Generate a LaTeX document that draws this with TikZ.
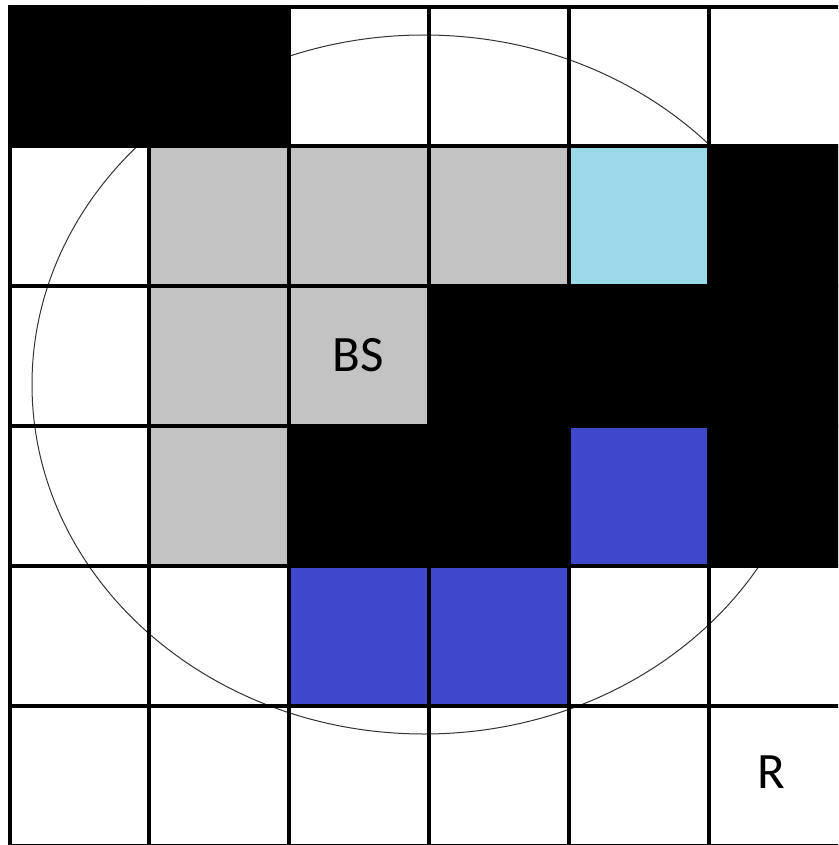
\documentclass[tikz,border=0pt]{standalone}
\usepackage{fontspec}
\newfontfamily\labelfont{Carlito}
\definecolor{cellgray}{HTML}{C3C3C3}
\definecolor{celllight}{HTML}{99D9EA}
\definecolor{cellblue}{HTML}{3F48CC}
\tikzset{
  cellfill/.style={fill=#1, draw=none},
  gridline/.style={line width=4pt, black},
  rangeline/.style={line width=1pt, black!80},
  celllabel/.style={font=\labelfont\fontsize{51}{51}\selectfont, inner sep=0pt}
}
\begin{document}
\begin{tikzpicture}[x=1pt,y=-1pt]
\useasboundingbox (0,0) rectangle (838,845);
\clip (0,0) rectangle (838,845);
\fill[white] (0,0) rectangle (838,845);
% coverage range
\draw[rangeline] (424,384.5) ellipse [x radius=392, y radius=349.5];
% cells: columns 10,149,289,429,569,709,849 ; rows 7,146,286,426,566,706,846
% row 0
\fill[cellfill=black] (10,7) rectangle (289,146);
% row 1
\fill[cellfill=cellgray] (149,146) rectangle (569,286);
\fill[cellfill=celllight] (569,146) rectangle (709,286);
\fill[cellfill=black] (709,146) rectangle (849,286);
% row 2
\fill[cellfill=cellgray] (149,286) rectangle (429,426);
\fill[cellfill=black] (429,286) rectangle (849,426);
% row 3
\fill[cellfill=cellgray] (149,426) rectangle (289,566);
\fill[cellfill=black] (289,426) rectangle (569,566);
\fill[cellfill=cellblue] (569,426) rectangle (709,566);
\fill[cellfill=black] (709,426) rectangle (849,566);
% row 4
\fill[cellfill=cellblue] (289,566) rectangle (569,706);
% grid
\foreach \gx in {10,149,289,429,569,709,849}
  \draw[gridline] (\gx,5) -- (\gx,848);
\foreach \gy in {7,146,286,426,566,706,846}
  \draw[gridline] (8,\gy) -- (851,\gy);
% labels
\node[celllabel] (bs) at (358,355) {BS};
\node[celllabel] (r) at (771.5,772.5) {R};
\end{tikzpicture}
\end{document}
